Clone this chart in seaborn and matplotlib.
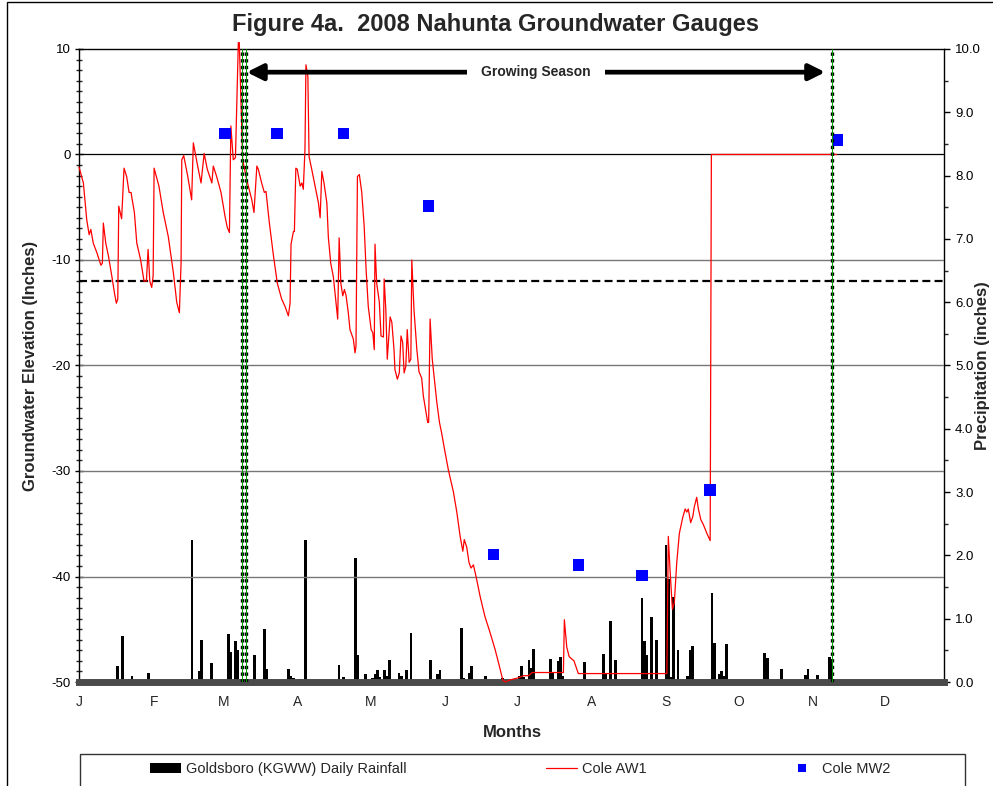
import matplotlib
matplotlib.use("Agg")
from matplotlib import pyplot as plt
from matplotlib.lines import Line2D
from matplotlib.patches import Rectangle
import seaborn as sns

# ---------------------------------------------------------------------------------
# data (x = day of year 2008, 0 = Jan 1)

month_starts = [0, 31, 60, 91, 121, 152, 182, 213, 244, 274, 305, 335]
month_labels = ["J", "F", "M", "A", "M", "J", "J", "A", "S", "O", "N", "D"]

# Cole AW1 groundwater level (inches)
aw1_day = [0.0, 1.8, 3.2, 4.2, 4.9, 5.9, 7.4, 9.1, 9.7, 10.1,
           11.1, 12.2, 13.6, 14.7, 15.5, 16.1, 16.5, 17.7, 18.7, 19.8,
           20.8, 21.6, 23.0, 24.0, 25.6, 27.0, 28.0, 28.7, 29.4, 30.2,
           30.8, 31.2, 33.2, 35.0, 37.1, 39.2, 40.6, 41.7, 42.4, 42.7,
           43.5, 45.2, 46.8, 47.5, 49.3, 50.7, 52.0, 53.3, 55.2, 55.8,
           57.2, 59.0, 60.7, 61.6, 62.5, 63.1, 64.1, 65.0, 66.2, 66.6,
           68.0, 69.7, 71.8, 72.7, 73.9, 74.5, 75.9, 77.0, 77.7, 79.1,
           80.8, 82.4, 84.2, 85.6, 87.0, 87.7, 88.1, 89.1, 89.5, 90.1,
           90.7, 91.9, 92.6, 93.2, 93.9, 94.3, 95.1, 95.6, 96.7, 98.1,
           99.5, 100.2, 100.9, 101.8, 103.0, 103.6, 104.6, 105.7, 106.8, 107.5,
           108.1, 108.8, 109.6, 110.3, 111.0, 111.9, 112.6, 114.0, 114.7, 115.1,
           115.7, 116.5, 117.5, 118.5, 119.3, 120.2, 121.4, 122.1, 122.7, 123.0,
           123.7, 124.8, 125.5, 126.5, 126.8, 127.5, 128.1, 129.3, 130.0, 130.9,
           131.3, 132.3, 133.1, 133.8, 134.5, 135.1, 135.8, 136.4, 137.2, 137.9,
           138.3, 139.2, 140.4, 141.3, 142.4, 143.1, 144.2, 144.9, 145.3, 145.9,
           146.8, 148.0, 148.7, 149.8, 150.7, 152.1, 153.5, 155.6, 157.0, 158.4,
           159.5, 160.1, 161.1, 162.1, 162.9, 163.9, 165.0, 166.7, 168.7, 170.8,
           172.9, 174.7, 176.1, 177.1, 179.1, 182.6, 184.7, 186.7, 187.4, 188.2,
           201.3, 201.7, 202.7, 203.7, 205.7, 206.9, 207.5, 244.3, 244.9, 245.6,
           246.6, 247.4, 248.4, 249.5, 250.9, 251.9, 252.6, 253.2, 254.2, 255.1,
           255.7, 256.7, 257.4, 258.4, 259.5, 260.2, 261.1, 262.3, 262.8, 314.9]
aw1_level = [-1.2, -2.7, -6.2, -7.6, -7.1, -8.4, -9.3, -10.5, -10.3, -6.5,
             -8.4, -9.6, -11.5, -13.1, -14.1, -13.7, -4.9, -6.1, -1.3, -2.1,
             -3.6, -3.6, -5.5, -8.4, -10.0, -12.0, -12.0, -9.0, -12.0, -12.6,
             -11.5, -1.3, -3.0, -5.5, -7.8, -11.2, -14.0, -15.0, -10.3, -0.5,
             -0.1, -2.1, -4.3, 1.1, -1.1, -2.7, 0.1, -1.4, -2.7, -1.1,
             -2.1, -3.6, -5.9, -6.9, -7.4, 2.7, -0.5, -0.3, 10.6, 10.6,
             -0.5, -2.4, -4.3, -5.5, -1.1, -1.4, -2.7, -3.6, -3.5, -6.5,
             -9.6, -12.2, -13.7, -14.4, -15.3, -14.1, -8.5, -7.3, -7.3, -1.3,
             -1.4, -3.0, -2.7, -3.3, 0.5, 8.5, 7.4, -0.2, -1.4, -3.0,
             -4.6, -6.0, -1.6, -2.7, -4.6, -7.8, -10.3, -11.6, -14.0, -15.6,
             -7.9, -12.2, -13.4, -12.8, -13.4, -15.0, -16.6, -17.5, -18.8, -18.2,
             -2.1, -1.9, -3.6, -6.8, -10.9, -14.4, -16.6, -16.9, -18.5, -8.5,
             -12.2, -14.0, -17.2, -17.3, -11.8, -14.7, -19.4, -15.4, -15.9, -18.5,
             -20.4, -21.3, -20.7, -17.2, -17.8, -20.7, -20.1, -16.6, -19.7, -19.4,
             -10.0, -14.7, -18.5, -20.6, -21.2, -22.9, -24.4, -25.4, -25.4, -15.6,
             -19.4, -22.0, -23.5, -25.4, -26.4, -28.2, -29.9, -32.0, -33.9, -36.2,
             -37.6, -36.5, -37.2, -38.7, -39.2, -38.9, -40.0, -41.9, -43.8, -45.3,
             -46.9, -48.5, -49.8, -50.0, -49.8, -49.6, -49.4, -49.4, -49.3, -49.1,
             -49.1, -44.1, -46.7, -47.6, -48.0, -48.8, -49.2, -49.2, -36.2, -39.3,
             -43.1, -42.5, -38.7, -35.9, -34.4, -33.6, -33.9, -33.6, -34.9, -34.3,
             -33.4, -32.5, -33.6, -34.6, -35.1, -35.5, -36.0, -36.6, 0.0, 0.0]

# Cole MW2 monthly readings (inches)
mw2_day = [60.7, 82.4, 109.9, 145.2, 172.2, 207.5, 233.9, 262.3, 315.2]
mw2_level = [2.0, 2.0, 2.0, -4.9, -37.9, -38.9, -39.9, -31.8, 1.4]

# Goldsboro (KGWW) daily rainfall (inches)
rain_day = [16, 18, 21, 22, 29, 36, 47, 50, 51, 52,
            55, 59, 62, 63, 65, 66, 73, 74, 77, 78,
            87, 88, 89, 92, 94, 95, 108, 110, 111, 113,
            115, 116, 118, 119, 120, 122, 123, 124, 125, 127,
            128, 129, 131, 133, 134, 136, 138, 141, 146, 149,
            150, 159, 160, 162, 163, 169, 176, 183, 184, 185,
            187, 188, 189, 196, 197, 199, 200, 201, 210, 218,
            219, 221, 223, 234, 235, 236, 238, 240, 244, 245,
            246, 247, 249, 253, 254, 255, 263, 264, 266, 267,
            268, 269, 271, 278, 285, 286, 292, 293, 302, 303,
            307, 312, 313, 320]
rain_in = [0.25, 0.72, 0.04, 0.10, 0.14, 0.03, 2.25, 0.17, 0.66, 0.03,
           0.30, 0.03, 0.76, 0.48, 0.65, 0.50, 0.42, 0.03, 0.83, 0.20,
           0.20, 0.10, 0.07, 0.05, 2.25, 0.05, 0.27, 0.08, 0.03, 0.03,
           1.96, 0.42, 0.03, 0.13, 0.05, 0.06, 0.13, 0.19, 0.08, 0.19,
           0.10, 0.35, 0.03, 0.14, 0.10, 0.19, 0.77, 0.03, 0.35, 0.12,
           0.19, 0.85, 0.06, 0.15, 0.25, 0.10, 0.06, 0.10, 0.25, 0.08,
           0.35, 0.22, 0.52, 0.36, 0.14, 0.33, 0.40, 0.10, 0.31, 0.44,
           0.15, 0.96, 0.35, 1.33, 0.65, 0.43, 1.02, 0.66, 2.17, 1.62,
           0.08, 1.35, 0.51, 0.10, 0.51, 0.57, 1.40, 0.62, 0.13, 0.17,
           0.10, 0.60, 0.03, 0.01, 0.46, 0.38, 0.20, 0.03, 0.11, 0.20,
           0.11, 0.39, 0.37, 0.02]

season_marks = [67.7, 69.4, 312.8]
season_span = [69.7, 310.1]
wetness_line = -12
grid_levels = [-10, -20, -30, -40]

# ---------------------------------------------------------------------------------

sns.set_style("ticks")
plt.rcParams["font.family"] = ["Liberation Sans", "DejaVu Sans"]
plt.rcParams["axes.unicode_minus"] = False

fig = plt.figure(figsize=(9.93, 7.86), dpi=100)
ax = fig.add_axes([0.0796, 0.1323, 0.8711, 0.8054])
ax2 = ax.twinx()
ax.set_zorder(ax2.get_zorder() + 1)
ax.patch.set_visible(False)

# rainfall bars on the right axis
bars = ax2.bar(rain_day, rain_in, width=1.1, color="black", linewidth=0)
ax2.set_ylim(0, 10)
ax2.set_yticks([i * 1.0 for i in range(11)])
ax2.set_yticks([i * 0.5 for i in range(21)], minor=True)
ax2.yaxis.set_major_formatter(matplotlib.ticker.FormatStrFormatter("%.1f"))
ax2.tick_params(axis="y", which="major", direction="out", length=4, width=1,
                labelsize=9.5, pad=4, colors="black")
ax2.tick_params(axis="y", which="minor", direction="out", length=3, width=1)
for side in ["top", "left", "bottom"]:
    ax2.spines[side].set_visible(False)
ax2.spines["right"].set_color("black")
ax2.spines["right"].set_linewidth(1)
ax2.set_ylabel("Precipitation (inches)", fontsize=12, fontweight="bold", rotation=90)
ax2.yaxis.set_label_coords(1.036, 0.5)

# reference lines
ax.axhline(0, color="black", lw=0.9, zorder=1)
for lev in grid_levels:
    ax.axhline(lev, color="#777777", lw=1, zorder=1)
ax.axhline(wetness_line, color="black", lw=1.6, ls=(0, (3.6, 1.9)), zorder=1)

# groundwater series
sns.lineplot(x=aw1_day, y=aw1_level, ax=ax, color="#ff0000", linewidth=0.9,
             sort=False, estimator=None, legend=False, zorder=3)
aw1_line = ax.lines[-1]
aw1_line.set_clip_on(False)
sns.scatterplot(x=mw2_day, y=mw2_level, ax=ax, marker="s", s=70, color="#0000ff",
                edgecolor="none", linewidth=0, legend=False, zorder=4)

# growing season markers
for d in season_marks:
    ax.axvline(d, color="black", lw=2.4, ls=(0, (1, 1)), zorder=5)
    ax.axvline(d, color="#00a000", lw=0.7, zorder=6)

ax.annotate("", xy=(season_span[0], 7.8), xytext=(season_span[1], 7.8),
            arrowprops=dict(arrowstyle="<|-|>,head_length=0.8,head_width=0.4",
                            lw=3.4, color="black", shrinkA=0, shrinkB=0,
                            mutation_scale=12))
ax.text(sum(season_span) / 2, 7.8, "Growing Season", ha="center", va="center",
        fontsize=10, fontweight="bold",
        bbox=dict(boxstyle="square,pad=1.0", fc="white", ec="none"))

# axes styling
ax.set_xlim(0, 359.5)
ax.set_ylim(-50, 10)
ax.set_yticks(range(-50, 11, 10))
ax.set_yticks(range(-50, 11, 1), minor=True)
ax.tick_params(axis="y", which="major", direction="inout", length=6, width=1,
               labelsize=9.5, pad=3, colors="black")
ax.tick_params(axis="y", which="minor", direction="inout", length=4, width=1)
ax.set_xticks(month_starts)
ax.set_xticklabels(month_labels)
ax.tick_params(axis="x", which="both", length=0, labelsize=10, pad=9)

for side in ["left", "top"]:
    ax.spines[side].set_color("black")
    ax.spines[side].set_linewidth(1)
ax.spines["right"].set_visible(False)
ax.spines["bottom"].set_color("#4a4a4a")
ax.spines["bottom"].set_linewidth(5)
ax.axhline(-50, color="#8c8c8c", lw=1.5, ls=(0, (1.2, 0.8)), clip_on=False, zorder=2)

ax.set_ylabel("Groundwater Elevation (Inches)", fontsize=12, fontweight="bold")
ax.yaxis.set_label_coords(-0.047, 0.5)
ax.set_xlabel("Months", fontsize=12, fontweight="bold")
ax.xaxis.set_label_coords(0.5006, -0.068)

fig.text(0.4985, 1 - 24 / 786, "Figure 4a.  2008 Nahunta Groundwater Gauges",
         ha="center", va="center", fontsize=17, fontweight="bold")

# legend
mw2_proxy = Line2D([], [], marker="s", ls="none", color="#0000ff", markersize=6,
                   markeredgewidth=0)
fig.legend(handles=[bars, aw1_line, mw2_proxy],
           labels=["Goldsboro (KGWW) Daily Rainfall", "Cole AW1", "Cole MW2"],
           loc="center left", bbox_to_anchor=(150 / 993, 1 - 769 / 786),
           ncol=3, frameon=False, fontsize=10.5, handlelength=2.1,
           handletextpad=0.35, columnspacing=9.6, borderpad=0, borderaxespad=0)
fig.add_artist(Rectangle((80 / 993, -0.01), 885 / 993, (786 - 754) / 786 + 0.01,
                         transform=fig.transFigure, fill=False, ec="#333333", lw=1))
fig.add_artist(Rectangle((7 / 993, -0.01), 1.05, 1 - 2 / 786 + 0.01,
                         transform=fig.transFigure, fill=False, ec="black", lw=1))

fig.savefig("out.png", dpi=100)
